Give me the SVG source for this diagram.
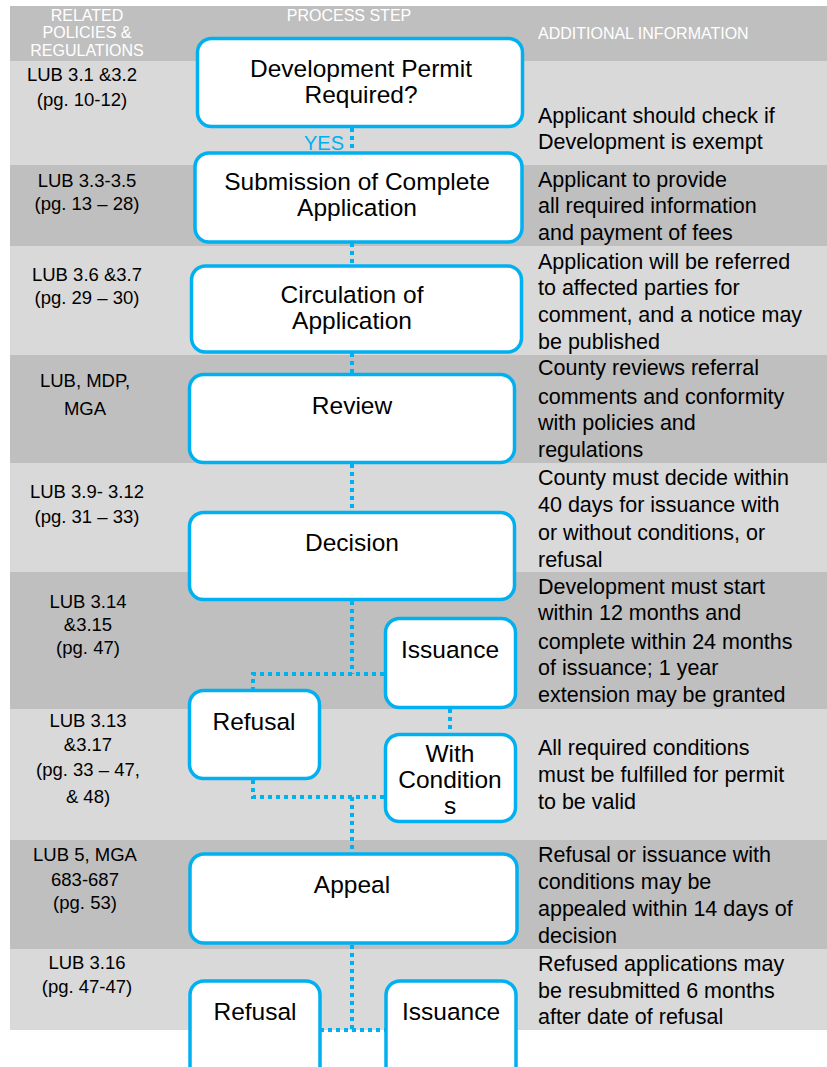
<svg xmlns="http://www.w3.org/2000/svg" width="827" height="1067" viewBox="0 0 827 1067">
<style>
.lt{fill:#d9d9d9}.dk{fill:#bfbfbf}
.hd{font-family:"Liberation Sans",Arial,sans-serif;font-size:16px;fill:#ffffff}
.lc{font-family:"Liberation Sans",Arial,sans-serif;font-size:18.5px;fill:#000;text-anchor:middle}
.rc{font-family:"Liberation Sans",Arial,sans-serif;font-size:21.5px;fill:#000}
.bt{font-family:"Liberation Sans",Arial,sans-serif;font-size:24.5px;fill:#000;text-anchor:middle}
.box{fill:#fff;stroke:#00b0f0;stroke-width:3.5}
.cn{fill:none;stroke:#00b0f0;stroke-width:4;stroke-dasharray:4 4}
</style>
<rect width="827" height="1067" fill="#fff"/>
<g id="bands">
<rect class="dk" x="10" y="6" width="817" height="55"/>
<rect class="lt" x="10" y="61" width="817" height="104"/>
<rect class="dk" x="10" y="165" width="817" height="81"/>
<rect class="lt" x="10" y="246" width="817" height="109"/>
<rect class="dk" x="10" y="355" width="817" height="108"/>
<rect class="lt" x="10" y="463" width="817" height="109"/>
<rect class="dk" x="10" y="572" width="817" height="137"/>
<rect class="lt" x="10" y="709" width="817" height="131"/>
<rect class="dk" x="10" y="840" width="817" height="109"/>
<rect class="lt" x="10" y="949" width="817" height="81"/>
</g>
<g id="header">
<text class="hd" x="87" y="21" text-anchor="middle">RELATED</text>
<text class="hd" x="87" y="38" text-anchor="middle">POLICIES &amp;</text>
<text class="hd" x="87" y="56" text-anchor="middle">REGULATIONS</text>
<text class="hd" x="349" y="21" text-anchor="middle">PROCESS STEP</text>
<text class="hd" x="538" y="39">ADDITIONAL INFORMATION</text>
</g>
<g id="policies">
<text class="lc" x="82" y="81">LUB 3.1 &amp;3.2</text>
<text class="lc" x="82" y="106">(pg. 10-12)</text>
<text class="lc" x="87" y="187">LUB 3.3-3.5</text>
<text class="lc" x="87" y="210">(pg. 13 – 28)</text>
<text class="lc" x="87" y="281">LUB 3.6 &amp;3.7</text>
<text class="lc" x="87" y="304">(pg. 29 – 30)</text>
<text class="lc" x="85" y="387">LUB, MDP,</text>
<text class="lc" x="85" y="415">MGA</text>
<text class="lc" x="87" y="498">LUB 3.9- 3.12</text>
<text class="lc" x="87" y="523">(pg. 31 – 33)</text>
<text class="lc" x="88" y="608">LUB 3.14</text>
<text class="lc" x="88" y="631">&amp;3.15</text>
<text class="lc" x="88" y="654">(pg. 47)</text>
<text class="lc" x="88" y="727">LUB 3.13</text>
<text class="lc" x="88" y="751">&amp;3.17</text>
<text class="lc" x="88" y="776">(pg. 33 – 47,</text>
<text class="lc" x="88" y="803">&amp; 48)</text>
<text class="lc" x="85" y="861">LUB 5, MGA</text>
<text class="lc" x="85" y="886">683-687</text>
<text class="lc" x="85" y="909">(pg. 53)</text>
<text class="lc" x="87" y="969">LUB 3.16</text>
<text class="lc" x="87" y="993">(pg. 47-47)</text>
</g>
<g id="info">
<text class="rc" x="538" y="123">Applicant should check if</text>
<text class="rc" x="538" y="149">Development is exempt</text>
<text class="rc" x="538" y="187">Applicant to provide</text>
<text class="rc" x="538" y="213">all required information</text>
<text class="rc" x="538" y="240">and payment of fees</text>
<text class="rc" x="538" y="269">Application will be referred</text>
<text class="rc" x="538" y="295">to affected parties for</text>
<text class="rc" x="538" y="322">comment, and a notice may</text>
<text class="rc" x="538" y="349">be published</text>
<text class="rc" x="538" y="375">County reviews referral</text>
<text class="rc" x="538" y="404">comments and conformity</text>
<text class="rc" x="538" y="430">with policies and</text>
<text class="rc" x="538" y="457">regulations</text>
<text class="rc" x="538" y="485">County must decide within</text>
<text class="rc" x="538" y="512">40 days for issuance with</text>
<text class="rc" x="538" y="540">or without conditions, or</text>
<text class="rc" x="538" y="567">refusal</text>
<text class="rc" x="538" y="594">Development must start</text>
<text class="rc" x="538" y="620">within 12 months and</text>
<text class="rc" x="538" y="649">complete within 24 months</text>
<text class="rc" x="538" y="675">of issuance; 1 year</text>
<text class="rc" x="538" y="702">extension may be granted</text>
<text class="rc" x="538" y="755">All required conditions</text>
<text class="rc" x="538" y="782">must be fulfilled for permit</text>
<text class="rc" x="538" y="809">to be valid</text>
<text class="rc" x="538" y="862">Refusal or issuance with</text>
<text class="rc" x="538" y="889">conditions may be</text>
<text class="rc" x="538" y="916">appealed within 14 days of</text>
<text class="rc" x="538" y="943">decision</text>
<text class="rc" x="538" y="971">Refused applications may</text>
<text class="rc" x="538" y="998">be resubmitted 6 months</text>
<text class="rc" x="538" y="1024">after date of refusal</text>
</g>
<g id="connectors">
<path class="cn" d="M352,128 V152"/>
<path class="cn" d="M352,243 V265"/>
<path class="cn" d="M352,353 V373"/>
<path class="cn" d="M352,464 V511"/>
<path class="cn" d="M352,601 V674 M384,674 H253 V689"/>
<path class="cn" d="M450,709 V733"/>
<path class="cn" d="M253,780 V797 H384 M352,797 V853"/>
<path class="cn" d="M352,945 V1030 M320,1030 H386"/>
<text x="324" y="150" font-family="'Liberation Sans',Arial,sans-serif" font-size="20" fill="#00b0f0" text-anchor="middle">YES</text>
</g>
<g id="n1"><rect class="box" x="197.5" y="38.5" width="325" height="88" rx="14"/>
<text class="bt" x="361" y="77">Development Permit</text><text class="bt" x="361" y="103">Required?</text></g>
<g id="n2"><rect class="box" x="195" y="153" width="327" height="89" rx="14"/>
<text class="bt" x="357" y="190">Submission of Complete</text><text class="bt" x="357" y="216">Application</text></g>
<g id="n3"><rect class="box" x="191.5" y="266" width="330" height="86" rx="14"/>
<text class="bt" x="352" y="303">Circulation of</text><text class="bt" x="352" y="329">Application</text></g>
<g id="n4"><rect class="box" x="189.5" y="374.5" width="325" height="88" rx="14"/>
<text class="bt" x="352" y="414">Review</text></g>
<g id="n5"><rect class="box" x="189.5" y="512.5" width="325" height="87" rx="14"/>
<text class="bt" x="352" y="551">Decision</text></g>
<g id="n6"><rect class="box" x="385.5" y="618.5" width="130" height="89" rx="14"/>
<text class="bt" x="450" y="658">Issuance</text></g>
<g id="n7"><rect class="box" x="189.5" y="690.5" width="130" height="88" rx="14"/>
<text class="bt" x="254" y="730">Refusal</text></g>
<g id="n8"><rect class="box" x="385.5" y="734.5" width="130" height="87" rx="14"/>
<text class="bt" x="450" y="762">With</text><text class="bt" x="450" y="788">Condition</text><text class="bt" x="450" y="814">s</text></g>
<g id="n9"><rect class="box" x="190" y="854" width="327" height="89" rx="14"/>
<text class="bt" x="352" y="893">Appeal</text></g>
<g id="n10"><rect class="box" x="190" y="981" width="130" height="120" rx="14"/>
<text class="bt" x="255" y="1020">Refusal</text></g>
<g id="n11"><rect class="box" x="386" y="981" width="130" height="120" rx="14"/>
<text class="bt" x="451" y="1020">Issuance</text></g>
</svg>
